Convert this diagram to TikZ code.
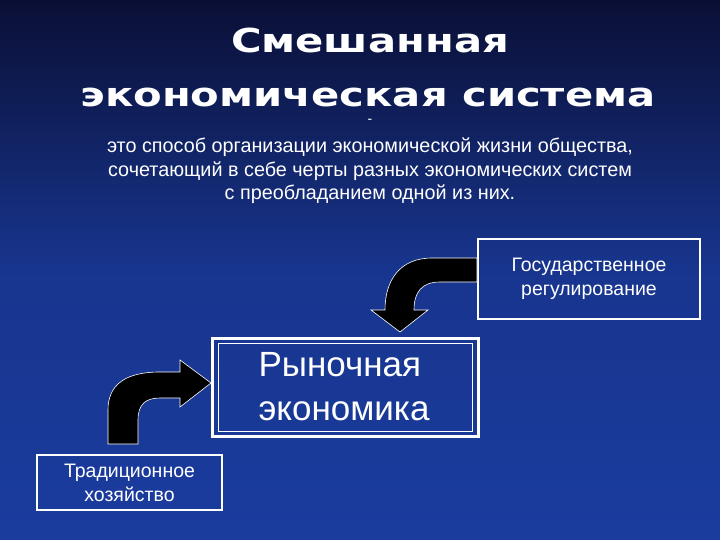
\documentclass[tikz,border=0pt]{standalone}
\usepackage{fontspec}
\setmainfont{Liberation Sans}
\newfontfamily\titlefont{DejaVu Sans}
\definecolor{bgtop}{HTML}{0A0F35}
\definecolor{bgbot}{HTML}{1A3C9E}
\tikzset{
  box/.style={draw=white, line width=2pt, text=white, align=center, font=\fontsize{19.5}{24}\selectfont},
  blackarrow/.style={fill=black, draw=white, line width=0.6pt},
  ttl/.style={text=white, font=\titlefont\bfseries\fontsize{30}{30}\selectfont}
}
\begin{document}
\begin{tikzpicture}[x=1pt,y=-1pt]
\shade[top color=bgtop, bottom color=bgbot, middle color=bgbot!85!bgtop] (0,0) rectangle (720,540);
\useasboundingbox (0,0) rectangle (720,540);
\node[ttl] (t1) at (370,40) {\scalebox{1.39}[1.1]{Смешанная}};
\node[ttl] (t2) at (368,97) {\scalebox{1.39}[1.1]{экономическая система}};
\node[text=white, font=\fontsize{14}{14}\selectfont] (dash) at (370,121) {-};
\node[text=white, align=center, font=\fontsize{19.8}{23.5}\selectfont] (def) at (370,171)
 {это способ организации экономической жизни общества,\\сочетающий в себе черты разных экономических систем\\с преобладанием одной из них.};
\node[box, minimum width=222pt, minimum height=80pt] (gos) at (589,279) {Государственное\\регулирование};
\node[box, minimum width=266pt, minimum height=98pt, line width=3pt] (mk) at (345,387) {};
\draw[white, line width=1pt] (218,343) rectangle (472,431);
\node[text=white, align=left, font=\fontsize{35}{44}\selectfont, anchor=west] (mkt) at (255,387) {Рыночная\\экономика};
\node[box, minimum width=185pt, minimum height=55pt] (tr) at (129.5,482.5) {Традиционное\\хозяйство};
% down arrow
\draw[blackarrow] (gos.west |- 0,258) -- (432,258) .. controls (400,258) and (385,280) .. (385,310)
  -- (371,310) -- (400,332) -- (428,310) -- (414,310) .. controls (414,292) and (422,282) .. (440,282)
  -- (gos.west |- 0,282) -- cycle;
% right arrow
\draw[blackarrow] (108,444) -- (108,410) .. controls (108,385) and (125,372) .. (160,372)
  -- (180,372) -- (180,360) -- (211,383) -- (180,407) -- (180,398) -- (160,398)
  .. controls (146,398) and (138,404) .. (138,420) -- (138,444) -- cycle;
\end{tikzpicture}
\end{document}
